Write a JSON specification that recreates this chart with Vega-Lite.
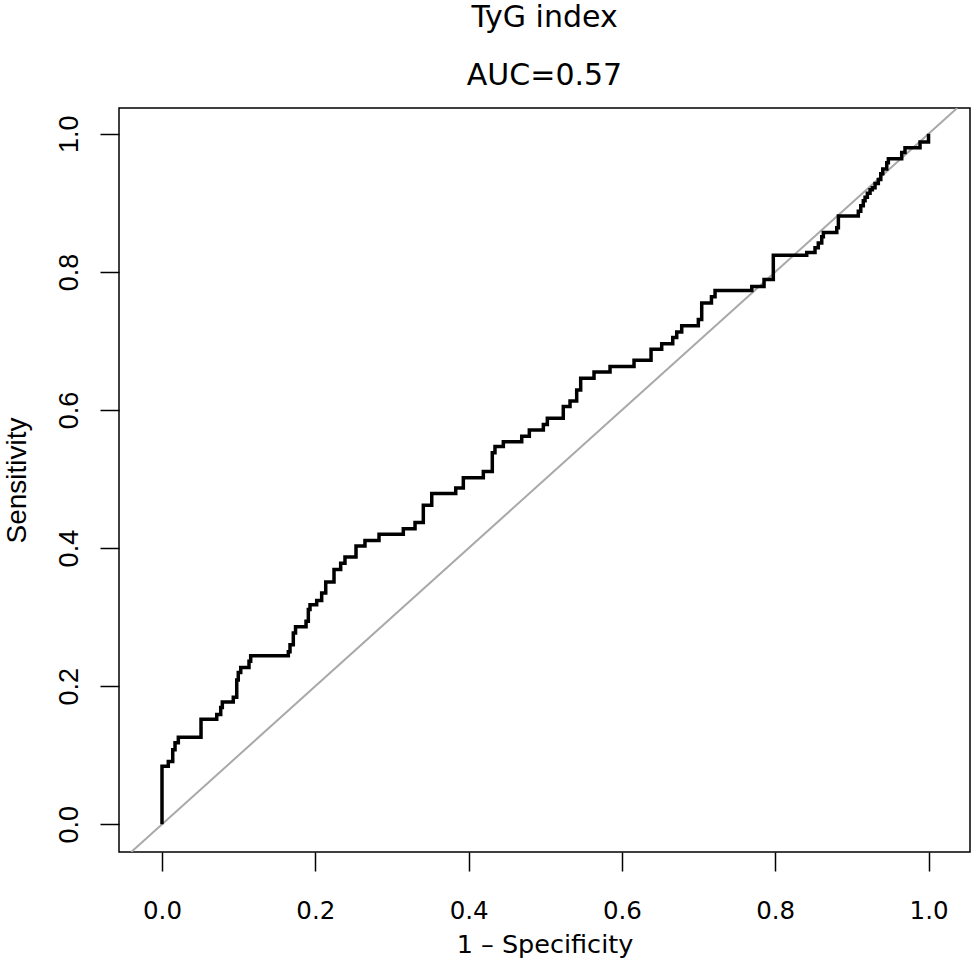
{
  "$schema": "https://vega.github.io/schema/vega-lite/v6.json",
  "autosize": "none",
  "width": 851,
  "height": 744,
  "padding": {"left": 119, "top": 108, "right": 2, "bottom": 124},
  "background": "white",
  "config": {
    "view": {"stroke": "black", "strokeWidth": 1.5},
    "axis": {
      "grid": false,
      "domain": false,
      "tickColor": "black",
      "tickWidth": 1.5,
      "tickSize": 19,
      "labelColor": "black",
      "titleColor": "black",
      "titleFontWeight": "normal"
    }
  },
  "title": {
    "text": "TyG index",
    "subtitle": "AUC=0.57",
    "anchor": "middle",
    "font": "DejaVu Sans",
    "fontSize": 30,
    "fontWeight": "normal",
    "color": "black",
    "subtitleFont": "DejaVu Sans",
    "subtitleFontSize": 30,
    "subtitleColor": "black",
    "subtitlePadding": 28,
    "offset": 17
  },
  "datasets": {
    "roc": [
      {"fpr": 0, "tpr": 0},
      {"fpr": 0, "tpr": 0.084},
      {"fpr": 0.0082, "tpr": 0.091},
      {"fpr": 0.014, "tpr": 0.108},
      {"fpr": 0.017, "tpr": 0.118},
      {"fpr": 0.0213, "tpr": 0.126},
      {"fpr": 0.0509, "tpr": 0.152},
      {"fpr": 0.0714, "tpr": 0.159},
      {"fpr": 0.0766, "tpr": 0.169},
      {"fpr": 0.0787, "tpr": 0.177},
      {"fpr": 0.093, "tpr": 0.184},
      {"fpr": 0.0975, "tpr": 0.209},
      {"fpr": 0.0995, "tpr": 0.22},
      {"fpr": 0.1027, "tpr": 0.227},
      {"fpr": 0.1135, "tpr": 0.236},
      {"fpr": 0.1157, "tpr": 0.244},
      {"fpr": 0.1648, "tpr": 0.25},
      {"fpr": 0.167, "tpr": 0.26},
      {"fpr": 0.1713, "tpr": 0.277},
      {"fpr": 0.1742, "tpr": 0.286},
      {"fpr": 0.1879, "tpr": 0.294},
      {"fpr": 0.1909, "tpr": 0.311},
      {"fpr": 0.1931, "tpr": 0.318},
      {"fpr": 0.2018, "tpr": 0.324},
      {"fpr": 0.2083, "tpr": 0.335},
      {"fpr": 0.2136, "tpr": 0.351},
      {"fpr": 0.2244, "tpr": 0.369},
      {"fpr": 0.2331, "tpr": 0.378},
      {"fpr": 0.2387, "tpr": 0.387},
      {"fpr": 0.2531, "tpr": 0.403},
      {"fpr": 0.2648, "tpr": 0.411},
      {"fpr": 0.2831, "tpr": 0.42},
      {"fpr": 0.3148, "tpr": 0.428},
      {"fpr": 0.3301, "tpr": 0.437},
      {"fpr": 0.3409, "tpr": 0.462},
      {"fpr": 0.3519, "tpr": 0.479},
      {"fpr": 0.3832, "tpr": 0.487},
      {"fpr": 0.3931, "tpr": 0.502},
      {"fpr": 0.4192, "tpr": 0.511},
      {"fpr": 0.4309, "tpr": 0.538},
      {"fpr": 0.4344, "tpr": 0.547},
      {"fpr": 0.4453, "tpr": 0.554},
      {"fpr": 0.4693, "tpr": 0.562},
      {"fpr": 0.4792, "tpr": 0.571},
      {"fpr": 0.4975, "tpr": 0.579},
      {"fpr": 0.5027, "tpr": 0.588},
      {"fpr": 0.5235, "tpr": 0.605},
      {"fpr": 0.5323, "tpr": 0.613},
      {"fpr": 0.541, "tpr": 0.629},
      {"fpr": 0.5462, "tpr": 0.646},
      {"fpr": 0.5636, "tpr": 0.655},
      {"fpr": 0.5845, "tpr": 0.663},
      {"fpr": 0.6158, "tpr": 0.672},
      {"fpr": 0.638, "tpr": 0.688},
      {"fpr": 0.6519, "tpr": 0.696},
      {"fpr": 0.6663, "tpr": 0.705},
      {"fpr": 0.6715, "tpr": 0.713},
      {"fpr": 0.678, "tpr": 0.722},
      {"fpr": 0.6997, "tpr": 0.731},
      {"fpr": 0.7041, "tpr": 0.755},
      {"fpr": 0.7168, "tpr": 0.764},
      {"fpr": 0.7215, "tpr": 0.773},
      {"fpr": 0.7694, "tpr": 0.779},
      {"fpr": 0.7854, "tpr": 0.789},
      {"fpr": 0.7975, "tpr": 0.824},
      {"fpr": 0.8411, "tpr": 0.828},
      {"fpr": 0.8519, "tpr": 0.835},
      {"fpr": 0.8562, "tpr": 0.842},
      {"fpr": 0.8607, "tpr": 0.851},
      {"fpr": 0.8628, "tpr": 0.857},
      {"fpr": 0.8803, "tpr": 0.864},
      {"fpr": 0.8824, "tpr": 0.881},
      {"fpr": 0.9084, "tpr": 0.888},
      {"fpr": 0.9116, "tpr": 0.896},
      {"fpr": 0.9149, "tpr": 0.903},
      {"fpr": 0.9172, "tpr": 0.908},
      {"fpr": 0.9202, "tpr": 0.914},
      {"fpr": 0.9237, "tpr": 0.919},
      {"fpr": 0.9267, "tpr": 0.922},
      {"fpr": 0.9302, "tpr": 0.928},
      {"fpr": 0.9345, "tpr": 0.934},
      {"fpr": 0.9377, "tpr": 0.942},
      {"fpr": 0.9403, "tpr": 0.949},
      {"fpr": 0.9455, "tpr": 0.958},
      {"fpr": 0.9476, "tpr": 0.964},
      {"fpr": 0.965, "tpr": 0.973},
      {"fpr": 0.9693, "tpr": 0.98},
      {"fpr": 0.9889, "tpr": 0.988},
      {"fpr": 1, "tpr": 1}
    ],
    "diagonal": [
      {"fpr": -0.0401, "tpr": -0.0401},
      {"fpr": 1.0374, "tpr": 1.0374}
    ]
  },
  "encoding": {
    "x": {
      "field": "fpr",
      "type": "quantitative",
      "scale": {"domain": [-0.0561, 1.0541], "nice": false, "zero": false},
      "axis": {
        "title": "1 \u2013 Specificity",
        "values": [0, 0.2, 0.4, 0.6, 0.8, 1],
        "format": ".1f",
        "labelFont": "DejaVu Sans",
        "labelFontSize": 24.5,
        "labelBaseline": "alphabetic",
        "labelPadding": 47,
        "titleFont": "DejaVu Sans",
        "titleFontSize": 25.5,
        "titleBaseline": "alphabetic",
        "titleY": 100
      }
    },
    "y": {
      "field": "tpr",
      "type": "quantitative",
      "scale": {"domain": [-0.0401, 1.0374], "nice": false, "zero": false},
      "axis": {
        "title": "Sensitivity",
        "values": [0, 0.2, 0.4, 0.6, 0.8, 1],
        "format": ".1f",
        "labelFont": "Liberation Sans",
        "labelFontSize": 27,
        "labelAngle": 270,
        "labelAlign": "center",
        "labelBaseline": "alphabetic",
        "labelPadding": 23,
        "titleFont": "Liberation Sans",
        "titleFontSize": 28,
        "titleAngle": 270,
        "titleBaseline": "alphabetic",
        "titleX": -93.5
      }
    }
  },
  "layer": [
    {
      "data": {"name": "diagonal"},
      "mark": {"type": "line", "color": "#a9a9a9", "strokeWidth": 2, "clip": true}
    },
    {
      "data": {"name": "roc"},
      "mark": {"type": "line", "color": "black", "strokeWidth": 3.5, "interpolate": "step-after", "strokeJoin": "miter", "strokeCap": "butt"},
      "encoding": {"order": {"field": "tpr", "type": "quantitative"}}
    }
  ]
}
